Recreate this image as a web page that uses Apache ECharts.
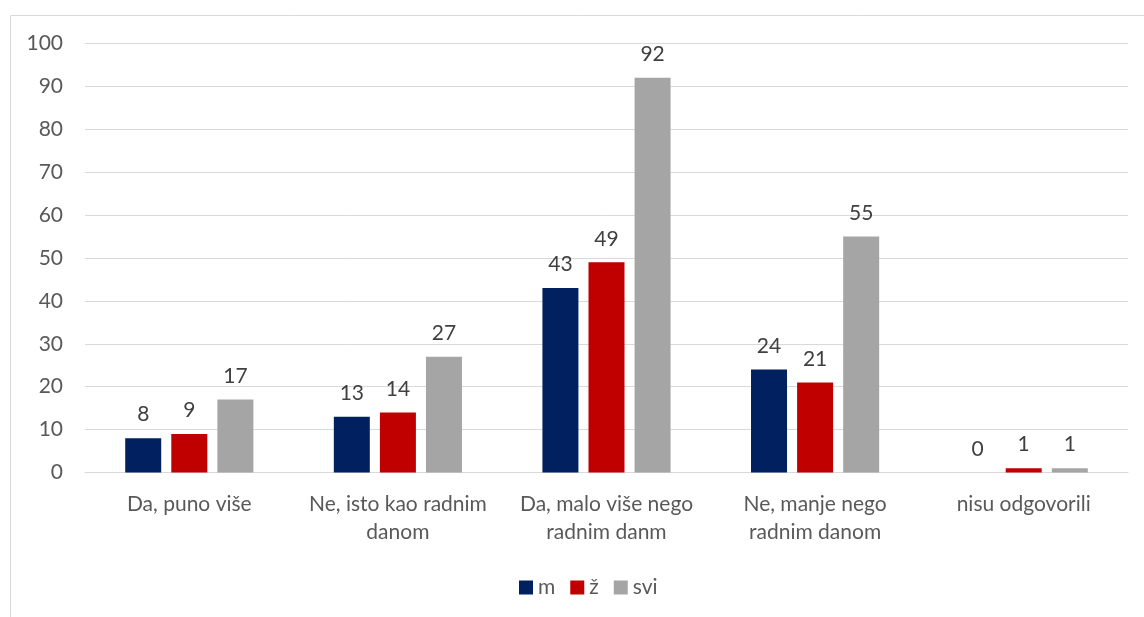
<!DOCTYPE html>
<html>
<head>
<meta charset="utf-8">
<script src="https://cdn.jsdelivr.net/npm/echarts@6/dist/echarts.min.js"></script>
<style>
  html, body { margin: 0; padding: 0; background: #fff; }
  #chart { width: 1144px; height: 617px; }
</style>
</head>
<body>
<div id="chart"></div>
<script>
// kategorije i vrijednosti
var categories = ['Da, puno više', 'Ne, isto kao radnim\ndanom', 'Da, malo više nego\nradnim danm', 'Ne, manje nego\nradnim danom', 'nisu odgovorili'];
var seriesNames = ['m', 'ž', 'svi'];
var mValues = [8, 13, 43, 24, 0];
var zValues = [9, 14, 49, 21, 1];
var sviValues = [17, 27, 92, 55, 1];
var yTicks = { min: 0, max: 100, interval: 10 };

var colors = ['#002060', '#C00000', '#A5A5A5'];
var font = 'Lato, "Open Sans", sans-serif';
var txt = '#595959';
var fs = 21;

var chart = echarts.init(document.getElementById('chart'));

function makeSeries(name, values) {
  return {
    name: name,
    type: 'bar',
    data: values,
    barWidth: 36,
    barGap: '28%',
    label: {
      show: true,
      position: 'top',
      distance: 13,
      color: '#404040',
      fontFamily: font,
      fontSize: fs
    }
  };
}

chart.setOption({
  backgroundColor: '#fff',
  color: colors,
  animation: false,
  graphic: [{
    type: 'rect',
    shape: { x: 10.5, y: 15.5, width: 1140, height: 610 },
    style: { fill: 'none', stroke: '#d9d9d9', lineWidth: 1 },
    silent: true
  }],
  grid: { left: 85, right: 16, top: 43.5, bottom: 144.5, containLabel: false },
  legend: {
    data: seriesNames,
    top: 572,
    left: 514,
    icon: 'rect',
    itemWidth: 14,
    itemHeight: 14,
    itemGap: 15,
    textStyle: { color: txt, fontFamily: font, fontSize: fs }
  },
  xAxis: {
    type: 'category',
    data: categories,
    axisLine: { lineStyle: { color: '#d9d9d9' } },
    axisTick: { show: false },
    axisLabel: {
      color: txt,
      fontFamily: font,
      fontSize: fs,
      lineHeight: 28,
      margin: 18,
      interval: 0
    }
  },
  yAxis: {
    type: 'value',
    min: yTicks.min,
    max: yTicks.max,
    interval: yTicks.interval,
    axisLine: { show: false },
    axisTick: { show: false },
    splitLine: { lineStyle: { color: '#d9d9d9' } },
    axisLabel: { color: txt, fontFamily: font, fontSize: fs, margin: 22 }
  },
  series: [
    makeSeries(seriesNames[0], mValues),
    makeSeries(seriesNames[1], zValues),
    makeSeries(seriesNames[2], sviValues)
  ]
});
</script>
</body>
</html>
